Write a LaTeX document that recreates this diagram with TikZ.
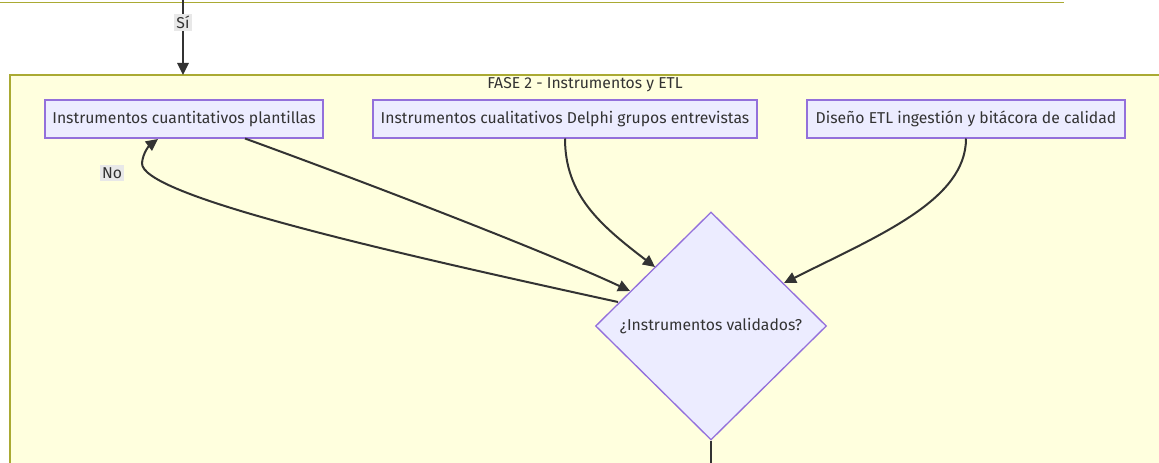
\documentclass[tikz,border=0pt]{standalone}
\usepackage{fontspec}
\setmainfont{Fira Sans}
\usetikzlibrary{arrows.meta,shapes.geometric}
\definecolor{grpfill}{HTML}{FFFFDE}
\definecolor{grpline}{HTML}{AAAA33}
\definecolor{boxfill}{HTML}{ECECFF}
\definecolor{boxline}{HTML}{9370DB}
\definecolor{ink}{HTML}{333333}
\definecolor{lblbg}{HTML}{E8E8E8}
\tikzset{
  txt/.style={text=ink, font=\fontsize{11.8pt}{14pt}\selectfont},
  procbox/.style={txt, draw=boxline, fill=boxfill, line width=1pt, minimum height=38*0.75pt,
    inner sep=0pt},
  decide/.style={txt, draw=boxline, fill=boxfill, line width=1pt, diamond, aspect=1,
    minimum width=231*0.75pt, minimum height=228*0.75pt, inner sep=0pt},
  flow/.style={draw=ink, line width=1.5pt, -{Triangle[length=9pt,width=8.5pt]}},
  edgelbl/.style={txt, fill=lblbg, inner sep=1.5pt},
}
\begin{document}
\begin{tikzpicture}[x=0.75pt,y=-0.75pt]
\useasboundingbox (0,0) rectangle (1159,463);
\fill[white] (0,0) rectangle (1159,463);
% edge of the preceding group
\draw[grpline, line width=1pt] (0,2.5) -- (1064,2.5);
% group FASE 2
\draw[grpline, fill=grpfill, line width=1pt] (10,75) rectangle (1180,500);
\node[txt] (title) at (585,85) {FASE 2 - Instrumentos y ETL};
% steps
\node[procbox, minimum width=278*0.75pt] (cuant) at (184,119) {Instrumentos cuantitativos plantillas};
\node[procbox, minimum width=384*0.75pt] (cual) at (565,119) {Instrumentos cualitativos Delphi grupos entrevistas};
\node[procbox, minimum width=318*0.75pt] (etl) at (966,119) {Diseño ETL ingestión y bitácora de calidad};
\node[decide] (valid) at (711,326) {¿Instrumentos validados?};
% connectors
\coordinate (entry) at (183,0);
\coordinate (exit) at (711,470);
\draw[flow] (entry) -- node[edgelbl, pos=0.3] (si) {Sí} (183,75);
\draw[flow] (245,138.5) .. controls (400,195) and (560,258) .. (630,291);
\draw[flow] (565,138.5) .. controls (565,195) and (600,225) .. (655,267);
\draw[flow] (966,138.5) .. controls (966,200) and (880,235) .. (784,283);
\draw[flow] (618,302) .. controls (380,250) and (140,195) .. (142,163) .. controls (143,152) and (150,145) .. (158,139);
\draw[ink, line width=1.5pt] (valid.south) -- (exit);
\node[edgelbl] (no) at (112,173) {No};
\end{tikzpicture}
\end{document}
